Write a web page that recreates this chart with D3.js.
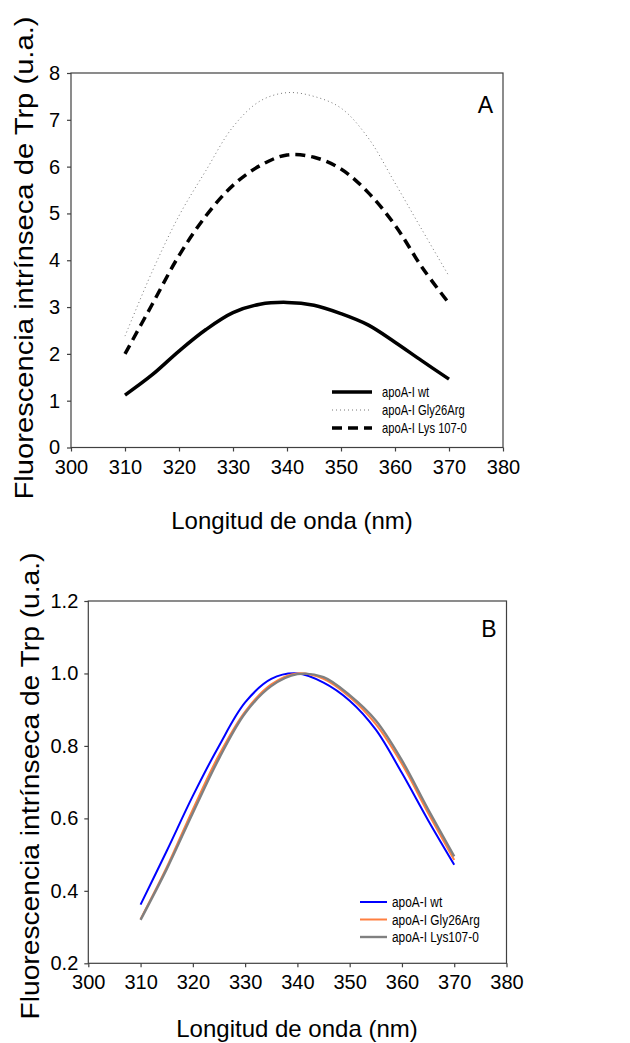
<!DOCTYPE html>
<html>
<head>
<meta charset="utf-8">
<script src="https://cdn.jsdelivr.net/npm/d3@7"></script>
<style>
  body { margin: 0; background: #fff; }
  text { font-family: "Liberation Sans", Arial, sans-serif; fill: #000; }
</style>
</head>
<body>
<div id="chart"></div>
<script>
// wavelength grid (nm)
const wavelengths = [310, 315, 320, 325, 330, 335, 340, 345, 350, 355, 360, 365, 370];

// panel A: raw intensity
const wtA  = [1.12, 1.55, 2.06, 2.52, 2.88, 3.06, 3.10, 3.04, 2.86, 2.62, 2.25, 1.85, 1.46];
const glyA = [2.38, 3.75, 4.95, 5.92, 6.85, 7.40, 7.58, 7.50, 7.25, 6.62, 5.65, 4.65, 3.66];
const lysA = [2.00, 3.05, 4.10, 4.95, 5.60, 6.02, 6.25, 6.20, 5.95, 5.45, 4.75, 3.85, 3.08];

// panel B: normalised intensity
const wtB  = [0.362, 0.510, 0.662, 0.800, 0.920, 0.985, 1.000, 0.975, 0.925, 0.845, 0.725, 0.595, 0.472];
const glyB = [0.322, 0.465, 0.625, 0.775, 0.895, 0.970, 1.000, 0.985, 0.935, 0.860, 0.750, 0.615, 0.485];
const lysB = [0.320, 0.460, 0.615, 0.765, 0.890, 0.965, 0.998, 0.990, 0.940, 0.870, 0.760, 0.625, 0.495];

const xTicks = [300, 310, 320, 330, 340, 350, 360, 370, 380];
const yTicksA = [0, 1, 2, 3, 4, 5, 6, 7, 8];
const yTicksB = [0.2, 0.4, 0.6, 0.8, 1.0, 1.2];

const legendA = ['apoA-I wt', 'apoA-I Gly26Arg', 'apoA-I Lys 107-0'];
const legendB = ['apoA-I wt', 'apoA-I Gly26Arg', 'apoA-I Lys107-0'];

const yTitle = 'Fluorescencia intrínseca de Trp (u.a.)';
const xTitle = 'Longitud de onda (nm)';

const svg = d3.select('#chart')
  .append('svg')
  .attr('width', 630)
  .attr('height', 1043);

function drawPanel (opt) {
  const x = d3.scaleLinear().domain([300, 380]).range([opt.left, opt.right]);
  const y = d3.scaleLinear().domain(opt.yDomain).range([opt.bottom, opt.top]);
  const g = svg.append('g');

  // frame
  g.append('rect')
    .attr('x', opt.left).attr('y', opt.top)
    .attr('width', opt.right - opt.left).attr('height', opt.bottom - opt.top)
    .attr('fill', 'none').attr('stroke', '#404040').attr('stroke-width', 1.2);

  const xAxis = g.append('g')
    .attr('transform', `translate(0,${opt.bottom})`)
    .call(d3.axisBottom(x).tickValues(xTicks).tickSize(4).tickPadding(8).tickFormat(d3.format('d')));
  xAxis.select('.domain').remove();
  xAxis.selectAll('line').attr('stroke', '#404040').attr('stroke-width', 1.2);
  xAxis.selectAll('text').attr('font-size', 20).attr('fill', '#000')
    .attr('font-family', '"Liberation Sans", Arial, sans-serif');

  const yAxis = g.append('g')
    .attr('transform', `translate(${opt.left},0)`)
    .call(d3.axisLeft(y).tickValues(opt.yTicks).tickSize(4).tickPadding(opt.yPad).tickFormat(opt.yFormat));
  yAxis.select('.domain').remove();
  yAxis.selectAll('line').attr('stroke', '#404040').attr('stroke-width', 1.2);
  yAxis.selectAll('text').attr('font-size', 20).attr('fill', '#000')
    .attr('font-family', '"Liberation Sans", Arial, sans-serif');

  // series
  const line = d3.line()
    .x((d, i) => x(wavelengths[i]))
    .y(d => y(d))
    .curve(d3.curveCatmullRom.alpha(0.5));

  opt.series.forEach(s => {
    g.append('path')
      .datum(s.values)
      .attr('d', line)
      .attr('fill', 'none')
      .attr('stroke', s.color)
      .attr('stroke-width', s.width)
      .attr('stroke-dasharray', s.dash || null)
      .attr('stroke-linejoin', 'round');
  });

  // legend
  const leg = g.append('g');
  opt.series.forEach((s, i) => {
    const ly = opt.legend.y + i * opt.legend.step;
    leg.append('line')
      .attr('x1', opt.legend.x).attr('x2', opt.legend.x + opt.legend.len)
      .attr('y1', ly).attr('y2', ly)
      .attr('stroke', s.color)
      .attr('stroke-width', s.width)
      .attr('stroke-dasharray', s.dash || null);
    leg.append('text')
      .attr('transform', `translate(${opt.legend.x + opt.legend.len + opt.legend.gap},${ly + 5}) scale(${opt.legend.squeeze},1)`)
      .attr('font-size', opt.legend.size)
      .text(opt.labels[i]);
  });

  // panel letter
  g.append('text')
    .attr('x', opt.right - 10).attr('y', opt.letterY)
    .attr('text-anchor', 'end')
    .attr('font-size', 23)
    .text(opt.letter);

  // axis titles
  g.append('text')
    .attr('x', opt.xTitleX).attr('y', opt.xTitleY)
    .attr('text-anchor', 'middle')
    .attr('font-size', 24)
    .text(xTitle);

  g.append('text')
    .attr('transform', `translate(${opt.yTitleX},${opt.yTitleY}) rotate(-90)`)
    .attr('text-anchor', 'middle')
    .attr('font-size', 25)
    .attr('textLength', opt.yTitleLen)
    .attr('lengthAdjust', 'spacingAndGlyphs')
    .text(yTitle);
}

drawPanel({
  left: 71, right: 503, top: 73, bottom: 447.5,
  yDomain: [0, 8], yTicks: yTicksA, yFormat: d3.format('d'), yPad: 7,
  series: [
    { values: wtA,  color: '#000', width: 3.5 },
    { values: glyA, color: '#777', width: 1, dash: '1,3' },
    { values: lysA, color: '#000', width: 3.5, dash: '10,6' }
  ],
  labels: legendA,
  legend: { x: 332, len: 40, gap: 10, y: 392, step: 18, size: 14, squeeze: 0.8 },
  letter: 'A', letterY: 113,
  xTitleX: 292, xTitleY: 529,
  yTitleX: 33, yTitleY: 258, yTitleLen: 483
});

drawPanel({
  left: 88.3, right: 506.5, top: 601, bottom: 963.3,
  yDomain: [0.2, 1.2], yTicks: yTicksB, yFormat: d3.format('.1f'), yPad: 6,
  series: [
    { values: wtB,  color: '#0000ff', width: 2 },
    { values: glyB, color: '#ff7f40', width: 2 },
    { values: lysB, color: '#808080', width: 2.4 }
  ],
  labels: legendB,
  legend: { x: 360, len: 27, gap: 5, y: 902, step: 17.5, size: 14.5, squeeze: 0.82 },
  letter: 'B', letterY: 637,
  xTitleX: 297, xTitleY: 1037,
  yTitleX: 39, yTitleY: 786, yTitleLen: 467
});
</script>
</body>
</html>
